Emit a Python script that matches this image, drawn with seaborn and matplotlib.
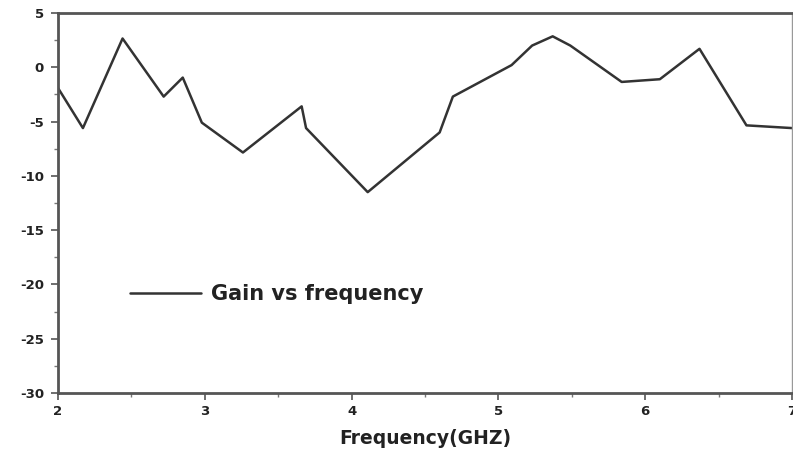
import matplotlib
matplotlib.use("Agg")
import matplotlib.pyplot as plt
import seaborn as sns
import pandas as pd
from matplotlib.ticker import MultipleLocator

freq = [2.0, 2.17, 2.44, 2.72, 2.85, 2.98, 3.26, 3.66, 3.69, 4.11,
        4.60, 4.69, 5.09, 5.23, 5.37, 5.49, 5.84, 6.10, 6.37, 6.69, 7.0]
gain = [-1.9, -5.6, 2.65, -2.7, -0.95, -5.1, -7.85, -3.6, -5.6, -11.5,
        -6.0, -2.7, 0.2, 2.0, 2.85, 2.0, -1.35, -1.1, 1.7, -5.35, -5.6]
df = pd.DataFrame({"Frequency": freq, "Gain": gain})

sns.set_style("ticks")
plt.rcParams["font.family"] = ["DejaVu Sans"]
plt.rcParams["axes.unicode_minus"] = False

fig = plt.figure(figsize=(7.93, 4.59), dpi=100)
ax = fig.add_axes([0.0731, 0.1438, 0.9256, 0.8279])
sns.lineplot(data=df, x="Frequency", y="Gain", ax=ax, color="#333333",
             linewidth=1.8, label="Gain vs frequency", sort=False)

ax.set_xlim(2, 7)
ax.set_ylim(-30, 5)
ax.xaxis.set_major_locator(MultipleLocator(1))
ax.xaxis.set_minor_locator(MultipleLocator(0.5))
ax.yaxis.set_major_locator(MultipleLocator(5))
ax.yaxis.set_minor_locator(MultipleLocator(2.5))
ax.tick_params(axis="both", which="major", direction="out", length=5,
               width=1.2, color="#555555", labelsize=9.5, labelcolor="#222222")
ax.tick_params(axis="y", which="major", pad=5)
ax.tick_params(axis="both", which="minor", direction="out", length=3,
               width=1.0, color="#777777")
for lab in ax.get_xticklabels() + ax.get_yticklabels():
    lab.set_fontweight("bold")
for side in ["top", "left", "bottom"]:
    ax.spines[side].set_linewidth(2.0)
    ax.spines[side].set_color("#555555")
ax.spines["right"].set_linewidth(1.0)
ax.spines["right"].set_color("#999999")
ax.spines["right"].set_visible(True)
ax.spines["top"].set_visible(True)

ax.set_xlabel("Frequency(GHZ)", fontsize=13.5, fontweight="bold",
              labelpad=8, color="#222222")
ax.set_ylabel("")

leg = ax.legend(loc="center left", bbox_to_anchor=(0.098, 0.26),
                frameon=False, borderpad=0, borderaxespad=0,
                handlelength=3.4, handletextpad=0.5,
                prop={"weight": "bold", "size": 15})
for t in leg.get_texts():
    t.set_color("#222222")

fig.savefig("out.png", dpi=100)
